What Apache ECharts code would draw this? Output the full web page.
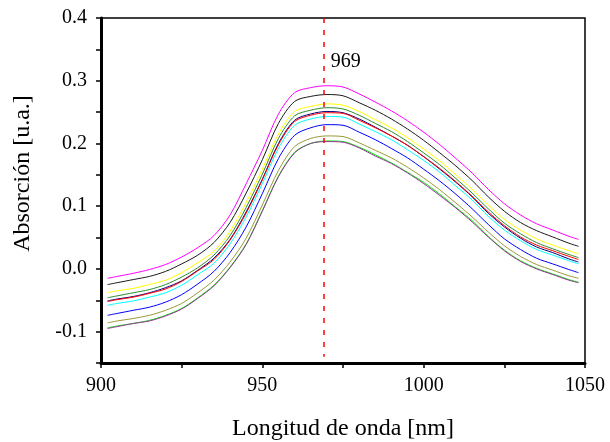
<!DOCTYPE html>
<html>
<head>
<meta charset="utf-8">
<title>Absorción</title>
<script src="https://cdn.jsdelivr.net/npm/echarts@6/dist/echarts.min.js"></script>
<style>
  html, body { margin: 0; padding: 0; background: #fff; }
  #dv { width: 610px; height: 442px; }
</style>
</head>
<body>
<div id="dv"></div>
<script>
// longitudes de onda (nm)
const wavelengths = [902, 905, 910, 915, 920, 925, 930, 935, 940, 945, 950, 955, 960, 965, 970,
  975, 980, 985, 990, 995, 1000, 1005, 1010, 1015, 1020, 1025, 1030, 1035, 1040, 1045, 1048]

// absorción de cada espectro
const magenta = [-0.015, -0.012, -0.007, -0.001, 0.007, 0.019, 0.034, 0.053, 0.086, 0.136, 0.189, 0.247, 0.281, 0.289, 0.292,
  0.290, 0.279, 0.266, 0.252, 0.236, 0.218, 0.198, 0.176, 0.153, 0.127, 0.104, 0.086, 0.072, 0.062, 0.052, 0.047]
const black = [-0.025, -0.022, -0.017, -0.012, -0.004, 0.008, 0.022, 0.042, 0.074, 0.121, 0.174, 0.232, 0.267, 0.275, 0.278,
  0.276, 0.265, 0.253, 0.239, 0.223, 0.205, 0.185, 0.164, 0.141, 0.115, 0.092, 0.074, 0.061, 0.051, 0.041, 0.036]
const yellow = [-0.038, -0.035, -0.031, -0.025, -0.018, -0.006, 0.010, 0.028, 0.060, 0.106, 0.159, 0.215, 0.251, 0.259, 0.263,
  0.261, 0.251, 0.238, 0.225, 0.209, 0.191, 0.172, 0.150, 0.127, 0.102, 0.079, 0.062, 0.048, 0.038, 0.029, 0.024]
const darkGreen = [-0.046, -0.043, -0.038, -0.033, -0.025, -0.013, 0.002, 0.022, 0.053, 0.098, 0.151, 0.208, 0.244, 0.253, 0.257,
  0.255, 0.245, 0.232, 0.219, 0.203, 0.185, 0.166, 0.144, 0.121, 0.096, 0.073, 0.056, 0.042, 0.032, 0.023, 0.018]
const navy = [-0.051, -0.048, -0.044, -0.038, -0.030, -0.019, -0.002, 0.017, 0.047, 0.091, 0.143, 0.200, 0.237, 0.247, 0.251,
  0.249, 0.239, 0.226, 0.212, 0.197, 0.179, 0.159, 0.138, 0.115, 0.089, 0.067, 0.049, 0.035, 0.026, 0.016, 0.011]
const red = [-0.052, -0.049, -0.045, -0.039, -0.032, -0.020, -0.003, 0.015, 0.046, 0.089, 0.142, 0.198, 0.235, 0.245, 0.249,
  0.248, 0.237, 0.225, 0.212, 0.197, 0.179, 0.160, 0.139, 0.116, 0.091, 0.069, 0.051, 0.038, 0.029, 0.020, 0.015]
const cyan = [-0.058, -0.055, -0.051, -0.045, -0.038, -0.026, -0.009, 0.009, 0.040, 0.083, 0.136, 0.192, 0.229, 0.239, 0.243,
  0.242, 0.231, 0.219, 0.206, 0.190, 0.173, 0.154, 0.132, 0.110, 0.084, 0.062, 0.045, 0.031, 0.022, 0.013, 0.008]
const blue = [-0.074, -0.071, -0.066, -0.061, -0.053, -0.041, -0.024, -0.004, 0.026, 0.067, 0.120, 0.176, 0.213, 0.225, 0.230,
  0.229, 0.218, 0.206, 0.192, 0.177, 0.159, 0.140, 0.119, 0.096, 0.071, 0.048, 0.031, 0.017, 0.008, -0.001, -0.006]
const olive = [-0.086, -0.083, -0.079, -0.074, -0.066, -0.055, -0.038, -0.018, 0.011, 0.049, 0.102, 0.157, 0.195, 0.208, 0.212,
  0.211, 0.201, 0.189, 0.177, 0.162, 0.145, 0.126, 0.105, 0.083, 0.059, 0.037, 0.020, 0.007, -0.002, -0.011, -0.015]
const green = [-0.094, -0.091, -0.087, -0.082, -0.074, -0.063, -0.046, -0.026, 0.003, 0.040, 0.093, 0.148, 0.186, 0.200, 0.204,
  0.203, 0.194, 0.182, 0.169, 0.154, 0.138, 0.119, 0.098, 0.077, 0.052, 0.030, 0.013, 0.001, -0.008, -0.017, -0.021]
const purple = [-0.095, -0.092, -0.087, -0.083, -0.075, -0.064, -0.047, -0.027, 0.002, 0.039, 0.092, 0.147, 0.185, 0.200, 0.203,
  0.202, 0.193, 0.180, 0.168, 0.153, 0.136, 0.117, 0.097, 0.075, 0.051, 0.029, 0.012, 0.000, -0.009, -0.018, -0.022]

const peakNm = 969
const peakLabelY = 0.33

const spectra = [
  { name: 'magenta', color: '#ff00ff', values: magenta },
  { name: 'black', color: '#1a1a1a', values: black },
  { name: 'yellow', color: '#ffff00', values: yellow },
  { name: 'darkGreen', color: '#2e8b2e', values: darkGreen },
  { name: 'navy', color: '#000080', values: navy },
  { name: 'red', color: '#ff0000', values: red },
  { name: 'cyan', color: '#00ffff', values: cyan },
  { name: 'blue', color: '#0000ff', values: blue },
  { name: 'olive', color: '#999933', values: olive },
  { name: 'green', color: '#00ee00', values: green },
  { name: 'purple', color: '#993399', values: purple }
]

const chartInstance = echarts.init(document.getElementById('dv'))
const fontFamily = '"Liberation Serif", "DejaVu Serif", serif'

const seriesList = spectra.map(item => {
  return {
    name: item.name,
    type: 'line',
    data: wavelengths.map((x, i) => [x, item.values[i]]),
    showSymbol: false,
    smooth: 0.3,
    lineStyle: { color: item.color, width: 1 },
    itemStyle: { color: item.color },
    z: 3
  }
})

// linea discontinua en el pico
seriesList.push({
  name: 'pico',
  type: 'line',
  data: [],
  markLine: {
    silent: true,
    symbol: 'none',
    label: { show: false },
    lineStyle: { color: '#ff0000', type: [5, 7], width: 1.5 },
    data: [[{ coord: [peakNm, 0.4] }, { coord: [peakNm, -0.14] }]]
  },
  markPoint: {
    silent: true,
    symbol: 'circle',
    symbolSize: 0,
    label: {
      show: true,
      position: 'right',
      distance: 7,
      formatter: String(peakNm),
      color: '#000',
      fontSize: 20,
      fontFamily: fontFamily
    },
    data: [{ coord: [peakNm, peakLabelY] }]
  }
})

const option = {
  animation: false,
  backgroundColor: '#fff',
  grid: {
    left: 101,
    right: 25,
    top: 18,
    bottom: 79,
    outerBoundsMode: 'none',
    show: true,
    borderColor: '#000',
    borderWidth: 1.5
  },
  xAxis: {
    type: 'value',
    min: 900,
    max: 1050,
    interval: 25,
    name: 'Longitud de onda [nm]',
    nameLocation: 'middle',
    nameGap: 54,
    nameTextStyle: { color: '#000', fontSize: 24, fontFamily: fontFamily },
    axisLine: { show: true, onZero: false, lineStyle: { color: '#000', width: 3 } },
    axisTick: { show: true, inside: false, length: 5, lineStyle: { color: '#000', width: 1.5 } },
    axisLabel: {
      color: '#000',
      fontSize: 20,
      fontFamily: fontFamily,
      margin: 13,
      formatter: function (v) {
        return v % 50 === 0 ? String(v) : ''
      }
    },
    splitLine: { show: false }
  },
  yAxis: {
    type: 'value',
    min: -0.15,
    max: 0.4,
    interval: 0.05,
    name: 'Absorción [u.a.]',
    nameLocation: 'middle',
    nameGap: 66,
    nameTextStyle: { color: '#000', fontSize: 24, fontFamily: fontFamily, padding: [0, 0, 0, 34] },
    axisLine: { show: true, onZero: false, lineStyle: { color: '#000', width: 3 } },
    axisTick: { show: true, inside: false, length: 5, lineStyle: { color: '#000', width: 1.5 } },
    axisLabel: {
      color: '#000',
      fontSize: 20,
      fontFamily: fontFamily,
      margin: 14,
      formatter: function (v) {
        const k = Math.round(v * 100)
        return k % 10 === 0 ? (k / 100).toFixed(1) : ''
      }
    },
    splitLine: { show: false }
  },
  series: seriesList
}

chartInstance.setOption(option)
</script>
</body>
</html>
